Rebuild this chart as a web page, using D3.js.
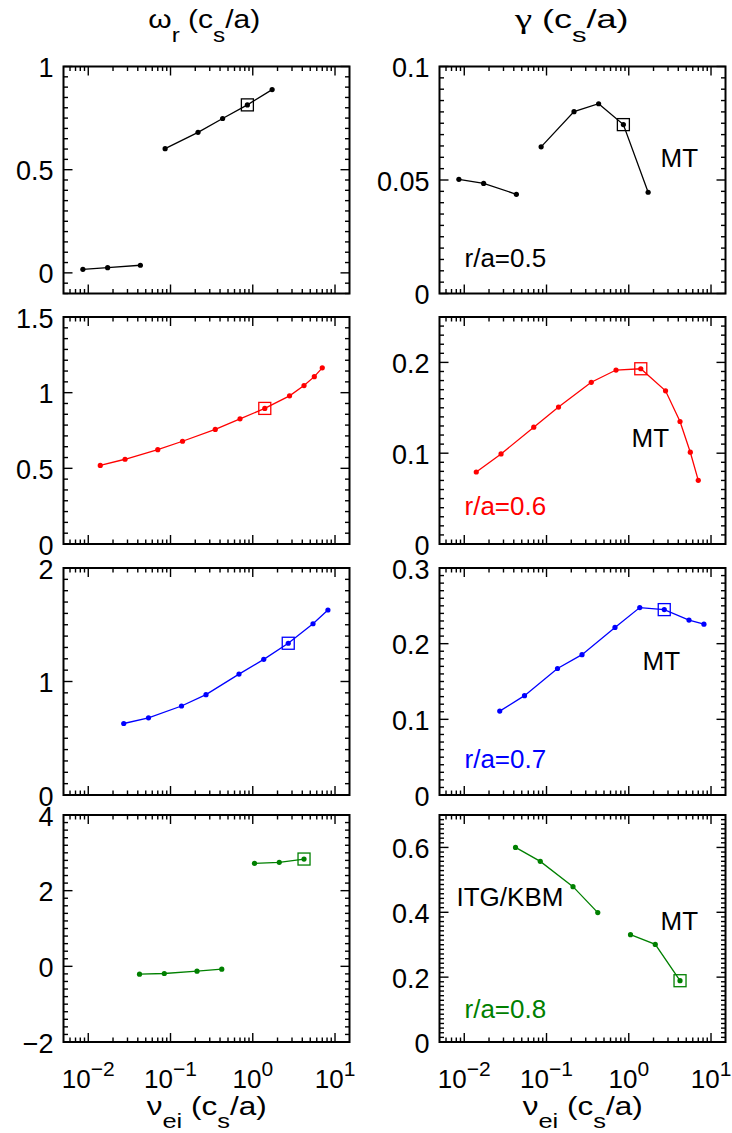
<!DOCTYPE html>
<html><head><meta charset="utf-8">
<script src="https://cdn.jsdelivr.net/npm/d3@7"></script>
<style>
body{margin:0;background:#fff}
svg{display:block}
text{font-family:"Liberation Sans",Arial,Helvetica,sans-serif;}
</style>
</head><body>
<svg id="chart" width="732" height="1133"></svg>
<script>
// ---------------- data ----------------
const radiusLabels = ["r/a=0.5", "r/a=0.6", "r/a=0.7", "r/a=0.8"];
const seriesColors = ["#000000", "#ff0000", "#0000ff", "#008000"];

const nuR05 = [0.0086, 0.0172, 0.043, 0.086, 0.216, 0.43, 0.86, 1.72];
const omegaR05 = [0.017, 0.025, 0.037, 0.602, 0.681, 0.748, 0.814, 0.888];
const gammaR05 = [0.0503, 0.0485, 0.0437, 0.0646, 0.0801, 0.0836, 0.0744, 0.0446];
const groupR05 = [0, 0, 0, 1, 1, 1, 1, 1];

const nuR06 = [0.014, 0.028, 0.07, 0.14, 0.35, 0.7, 1.4, 2.8, 4.2, 5.6, 7.0];
const omegaR06 = [0.519, 0.560, 0.623, 0.679, 0.757, 0.827, 0.896, 0.979, 1.047, 1.106, 1.164];
const gammaR06 = [0.0793, 0.0992, 0.1287, 0.1508, 0.1781, 0.1916, 0.1930, 0.1687, 0.1349, 0.1011, 0.0701];
const groupR06 = [0, 0, 0, 0, 0, 0, 0, 0, 0, 0, 0];

const nuR07 = [0.027, 0.054, 0.136, 0.27, 0.68, 1.36, 2.7, 5.4, 8.2];
const omegaR07 = [0.630, 0.680, 0.784, 0.884, 1.065, 1.195, 1.337, 1.509, 1.630];
const gammaR07 = [0.1109, 0.1313, 0.1672, 0.1855, 0.2214, 0.2477, 0.2450, 0.2312, 0.2258];
const groupR07 = [0, 0, 0, 0, 0, 0, 0, 0, 0];

const nuR08 = [0.042, 0.084, 0.21, 0.42, 1.05, 2.1, 4.2];
const omegaR08 = [-0.206, -0.190, -0.127, -0.074, 2.723, 2.749, 2.836];
const gammaR08 = [0.600, 0.557, 0.479, 0.399, 0.331, 0.301, 0.189];
const groupR08 = [0, 0, 0, 0, 1, 1, 1];

const markedIndex = [6, 6, 6, 6];

const omegaDomains = [[-0.1, 1], [0, 1.5], [0, 2], [-2, 4]];
const omegaTickValues = [[0, 0.5, 1], [0, 0.5, 1, 1.5], [0, 1, 2], [-2, 0, 2, 4]];
const omegaMinorSteps = [0.05, 0.5 / 7, 0.1, 0.2];

const gammaDomains = [[0, 0.1], [0, 0.25], [0, 0.3], [0, 0.7]];
const gammaTickValues = [[0, 0.05, 0.1], [0, 0.1, 0.2], [0, 0.1, 0.2, 0.3], [0, 0.2, 0.4, 0.6]];
const gammaMinorSteps = [0.005, 0.01, 0.01, 0.2 / 14];

const nuDomain = [0.005, 15];
const nuTickValues = [0.01, 0.1, 1, 10];
const nuTickExponents = ["\u22122", "\u22121", "0", "1"];

const annotationsMT = [[221, 100], [192, 130], [203, 102], [221, 115]];
const radiusLabelPos = [[25, 200], [25, 198], [25, 200], [25, 203]];

// ---------------- layout ----------------
const colLeft = [63.5, 439.5];
const panelW = 286;
const rowTop = [66.5, 317, 568, 815];
const panelH = 227;
const majorLen = 9, minorLen = 4.5;

const rows = [
  {nu: nuR05, om: omegaR05, ga: gammaR05, grp: groupR05},
  {nu: nuR06, om: omegaR06, ga: gammaR06, grp: groupR06},
  {nu: nuR07, om: omegaR07, ga: gammaR07, grp: groupR07},
  {nu: nuR08, om: omegaR08, ga: gammaR08, grp: groupR08}
];

const svg = d3.select("#chart");
const x = d3.scaleLog().domain(nuDomain).range([0, panelW]);

function fmt(v) {
  if (v < 0) return "\u2212" + String(-v);
  return String(v);
}

function minorValues(dom, step, majors) {
  const out = [];
  const k0 = Math.ceil(dom[0] / step - 1e-6), k1 = Math.floor(dom[1] / step + 1e-6);
  for (let k = k0; k <= k1; k++) {
    const v = k * step;
    if (majors.some(m => Math.abs(m - v) < step * 0.1)) continue;
    out.push(v);
  }
  return out;
}

const xMinor = [];
for (let e = -3; e <= 1; e++) for (let m = 2; m <= 9; m++) {
  const v = m * Math.pow(10, e);
  if (v > nuDomain[0] && v < nuDomain[1]) xMinor.push(v);
}

function drawPanel(g, y, majors, minorStep, showXLabels, data, color, valueKey, mark) {
  const tk = g.append("g").attr("stroke", "#000").attr("stroke-width", 1.4);
  nuTickValues.forEach(v => {
    tk.append("line").attr("x1", x(v)).attr("x2", x(v)).attr("y1", panelH).attr("y2", panelH - majorLen);
    tk.append("line").attr("x1", x(v)).attr("x2", x(v)).attr("y1", 0).attr("y2", majorLen);
  });
  xMinor.forEach(v => {
    tk.append("line").attr("x1", x(v)).attr("x2", x(v)).attr("y1", panelH).attr("y2", panelH - minorLen);
    tk.append("line").attr("x1", x(v)).attr("x2", x(v)).attr("y1", 0).attr("y2", minorLen);
  });
  majors.forEach(v => {
    tk.append("line").attr("x1", 0).attr("x2", majorLen).attr("y1", y(v)).attr("y2", y(v));
    tk.append("line").attr("x1", panelW).attr("x2", panelW - majorLen).attr("y1", y(v)).attr("y2", y(v));
  });
  minorValues(y.domain(), minorStep, majors).forEach(v => {
    tk.append("line").attr("x1", 0).attr("x2", minorLen).attr("y1", y(v)).attr("y2", y(v));
    tk.append("line").attr("x1", panelW).attr("x2", panelW - minorLen).attr("y1", y(v)).attr("y2", y(v));
  });
  g.append("rect").attr("x", 0).attr("y", 0).attr("width", panelW).attr("height", panelH)
    .attr("fill", "none").attr("stroke", "#000").attr("stroke-width", 2);

  majors.forEach(v => {
    g.append("text").attr("x", -10).attr("y", y(v) + 10.5).attr("text-anchor", "end")
      .attr("font-size", 27).attr("fill", "#000").text(fmt(v));
  });

  if (showXLabels) {
    nuTickValues.forEach((v, i) => {
      const t = g.append("text").attr("x", x(v)).attr("y", panelH + 46)
        .attr("text-anchor", "middle").attr("font-size", 26).attr("fill", "#000");
      t.append("tspan").text("10");
      t.append("tspan").attr("dy", -12).attr("font-size", 21).text(nuTickExponents[i]);
    });
  }

  const pts = data.nu.map((n, i) => ({n, v: data[valueKey][i], g: data.grp[i]}));
  const groups = d3.groups(pts, d => d.g);
  const line = d3.line().x(d => x(d.n)).y(d => y(d.v));
  groups.forEach(([, p]) => {
    g.append("path").attr("d", line(p)).attr("fill", "none").attr("stroke", color).attr("stroke-width", 1.3);
  });
  g.selectAll("circle.pt").data(pts).enter().append("circle")
    .attr("cx", d => x(d.n)).attr("cy", d => y(d.v)).attr("r", 2.6).attr("fill", color);
  const m = pts[mark];
  g.append("rect").attr("x", x(m.n) - 6).attr("y", y(m.v) - 6).attr("width", 12).attr("height", 12)
    .attr("fill", "none").attr("stroke", color).attr("stroke-width", 1.3);
}

rows.forEach((data, r) => {
  const last = r === rows.length - 1;
  const gl = svg.append("g").attr("transform", `translate(${colLeft[0]},${rowTop[r]})`);
  const yl = d3.scaleLinear().domain(omegaDomains[r]).range([panelH, 0]);
  drawPanel(gl, yl, omegaTickValues[r], omegaMinorSteps[r], last, data, seriesColors[r], "om", markedIndex[r]);
  const gr = svg.append("g").attr("transform", `translate(${colLeft[1]},${rowTop[r]})`);
  const yr = d3.scaleLinear().domain(gammaDomains[r]).range([panelH, 0]);
  drawPanel(gr, yr, gammaTickValues[r], gammaMinorSteps[r], last, data, seriesColors[r], "ga", markedIndex[r]);

  gr.append("text").attr("x", annotationsMT[r][0]).attr("y", annotationsMT[r][1])
    .attr("font-size", 26).attr("fill", "#000").text("MT");
  gr.append("text").attr("x", radiusLabelPos[r][0]).attr("y", radiusLabelPos[r][1])
    .attr("font-size", 26).attr("fill", seriesColors[r]).text(radiusLabels[r]);
  if (last) {
    gr.append("text").attr("x", 17).attr("y", 91).attr("font-size", 26).attr("fill", "#000").text("ITG/KBM");
  }
});

// titles (stretched horizontally to the reference's wide lettering)
function subText(xc, yb, parts, targetW, subShift) {
  const t = svg.append("text").attr("x", xc).attr("y", yb).attr("text-anchor", "middle")
    .attr("font-size", 26).attr("fill", "#000");
  let shifted = false;
  parts.forEach(p => {
    const s = t.append("tspan").text(p.t);
    if (p.serif) s.attr("font-family", "'Liberation Serif', 'DejaVu Serif', serif").attr("font-size", 28);
    if (p.sub) { s.attr("dy", subShift).attr("font-size", 21); shifted = true; }
    else if (shifted) { s.attr("dy", -subShift); shifted = false; }
  });
  const w = t.node().getBBox().width;
  const sx = targetW / w;
  t.attr("transform", `translate(${xc},0) scale(${sx},1) translate(${-xc},0)`);
}
subText(204.2, 28, [{t: "\u03c9"}, {t: "r", sub: true}, {t: " (c"}, {t: "s", sub: true}, {t: "/a)"}], 112, 14);
subText(571.8, 28, [{t: "\u03b3", serif: true}, {t: "  (c"}, {t: "s", sub: true}, {t: "/a)"}], 115, 14);
subText(206.7, 1115.5, [{t: "\u03bd"}, {t: "ei", sub: true}, {t: " (c"}, {t: "s", sub: true}, {t: "/a)"}], 120, 13);
subText(582.7, 1115.5, [{t: "\u03bd"}, {t: "ei", sub: true}, {t: " (c"}, {t: "s", sub: true}, {t: "/a)"}], 120, 13);
</script>
</body></html>
